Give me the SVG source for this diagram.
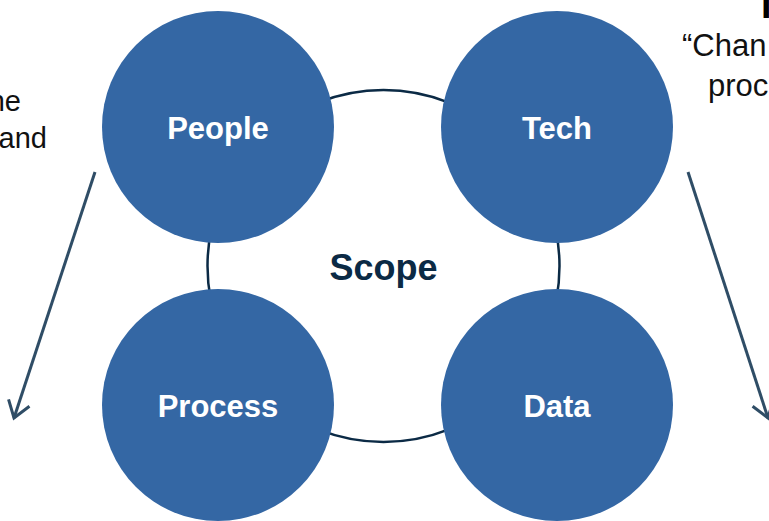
<svg xmlns="http://www.w3.org/2000/svg" width="769" height="521" viewBox="0 0 769 521">
  <defs>
    <marker id="chev" markerWidth="10" markerHeight="10" refX="7" refY="5" orient="auto" markerUnits="userSpaceOnUse" viewBox="0 0 10 10" overflow="visible">
      <path d="M-9,-6 L7,5 L-9,16" fill="none" stroke="#2f4d66" stroke-width="3"/>
    </marker>
    <style>
      .ring { fill: none; stroke: #0b2a45; stroke-width: 2.5; }
      .node { fill: #3467a4; }
      .lbl { font-family: "Liberation Sans", Arial, sans-serif; font-weight: bold; font-size: 31px; fill: #ffffff; text-anchor: middle; }
      .side { font-family: "Liberation Sans", Arial, sans-serif; font-size: 29px; fill: #111111; }
      .side-r { font-family: "Liberation Sans", Arial, sans-serif; font-size: 31px; fill: #111111; }
      .arrow { stroke: #2f4d66; stroke-width: 3; fill: none; marker-end: url(#chev); }
    </style>
  </defs>
  <rect width="769" height="521" fill="#ffffff"/>

  <!-- side captions, running off the frame -->
  <text class="side" x="21" y="111" text-anchor="end">he</text>
  <text class="side" x="47" y="148" text-anchor="end">and</text>
  <text class="side-r" x="682" y="56">“Chan</text>
  <text class="side-r" x="708" y="96">proc</text>
  <text x="761" y="18" font-family="Liberation Sans, Arial, sans-serif" font-weight="bold" font-size="38" fill="#000000">I</text>

  <!-- scope ring -->
  <g id="scope">
    <circle class="ring" cx="383.5" cy="266" r="176"/>
    <text x="383.5" y="280" font-family="Liberation Sans, Arial, sans-serif" font-weight="bold" font-size="36" fill="#0b2a45" text-anchor="middle">Scope</text>
  </g>

  <g id="people">
    <circle class="node" cx="218" cy="127" r="116"/>
    <text class="lbl" x="218" y="139">People</text>
  </g>
  <g id="tech">
    <circle class="node" cx="557" cy="127" r="116"/>
    <text class="lbl" x="557" y="139">Tech</text>
  </g>
  <g id="process">
    <circle class="node" cx="218" cy="405" r="116"/>
    <text class="lbl" x="218" y="417">Process</text>
  </g>
  <g id="data">
    <circle class="node" cx="557" cy="405" r="116"/>
    <text class="lbl" x="557" y="417">Data</text>
  </g>

  <g id="connectors">
    <line class="arrow" x1="95" y1="172" x2="14" y2="418"/>
    <line class="arrow" x1="688" y1="172" x2="768" y2="418"/>
  </g>
</svg>
